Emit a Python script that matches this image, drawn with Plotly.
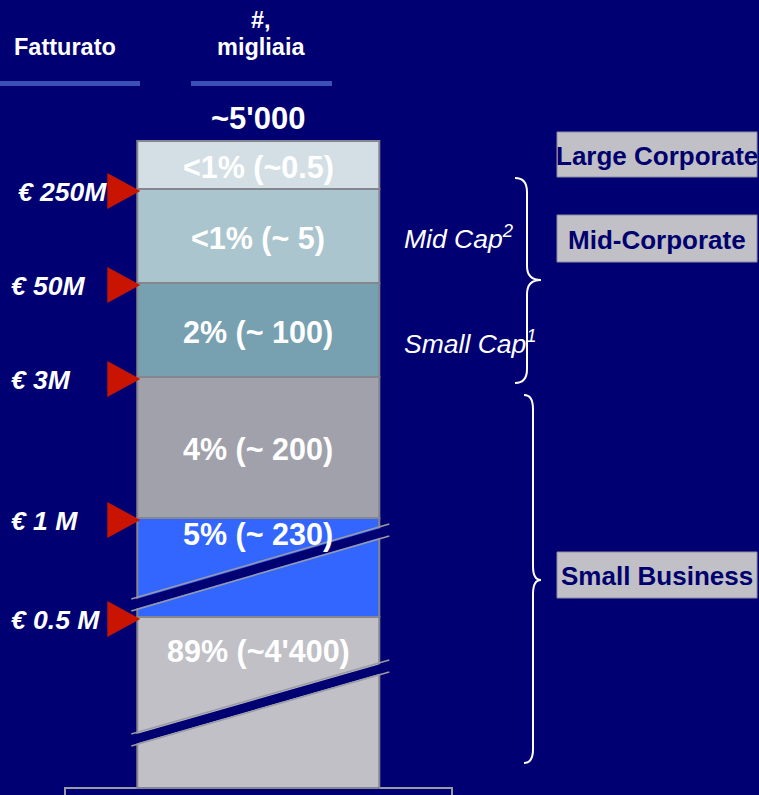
import plotly.graph_objects as go

# ---- data -------------------------------------------------------------
bands = ["Large Corporate", "Mid Cap", "Small Cap", "€1-3M", "€0.5-1M", "< €0.5M"]
share_labels = ["<1%", "<1%", "2%", "4%", "5%", "89%"]
count_labels = ["~0.5", "~ 5", "~ 100", "~ 200", "~ 230", "~4'400"]
# drawn height of each band on the (broken) column scale
band_heights = [48, 94, 94, 141, 99, 171]
band_colors = ["#D3DFE4", "#ABC5CE", "#77A0B0", "#A1A1AB", "#3366FF", "#C0C0C6"]
thresholds = ["€ 250M", "€ 50M", "€ 3M", "€ 1 M", "€ 0.5 M"]
total_label = "~5'000"
segments = ["Large Corporate", "Mid-Corporate", "Small Business"]

# ---- styling ------------------------------------------------------------
W, H = 759, 795
NAVY = "#000072"
FONT = "Arial, Liberation Sans, sans-serif"
COL_TOP = 141
COL_X = 258.3
COL_W = 242
BORDER = "#86868E"
RED = "#C81400"

bases = []
acc = COL_TOP
for h in band_heights:
    bases.append(acc)
    acc += h
col_bottom = acc
col_left = COL_X - COL_W / 2
col_right = COL_X + COL_W / 2

fig = go.Figure()

# stacked column
fig.add_trace(go.Bar(
    x=[COL_X] * len(band_heights), y=band_heights, base=bases, width=COL_W,
    marker=dict(color=band_colors, line=dict(color=BORDER, width=2)),
    hoverinfo="skip", showlegend=False,
))

shapes = []
annotations = []

# axis-break slashes on the two truncated bands
breaks = [  # (band index, y at left edge, y at right edge)
    (4, 599, 524),
    (5, 734, 660),
]
gap = 12
for _, yl, yr in breaks:
    xl, xr = col_left - 6, col_right + 10
    shapes.append(dict(
        type="path", xref="x", yref="y", layer="above",
        path=f"M {xl},{yl+1.5} L {xr},{yr+1.5} L {xr},{yr+gap-1} L {xl},{yl+gap-1} Z",
        fillcolor=NAVY, line=dict(width=0)))
    for dy in (0, gap):
        shapes.append(dict(
            type="line", xref="x", yref="y", layer="above",
            x0=xl, y0=yl + dy, x1=xr, y1=yr + dy,
            line=dict(color="#9A9AA4", width=1.5)))

# band labels
for i, (s, c) in enumerate(zip(share_labels, count_labels)):
    top, h = bases[i], band_heights[i]
    if i == 4:
        y = top + 16
    elif i == 5:
        y = top + 34
    else:
        y = top + h / 2 + 2
    annotations.append(dict(
        x=COL_X, y=y, xref="x", yref="y", showarrow=False,
        text=f"<b>{s} ({c})</b>", font=dict(family=FONT, size=30.5, color="#FFFFFF"),
        xanchor="center", yanchor="middle"))

# revenue threshold markers at band boundaries
for j, lab in enumerate(thresholds):
    yb = bases[j + 1] + 2
    fig.add_trace(go.Scatter(
        x=[col_left + 3, col_left - 30, col_left - 30, col_left + 3],
        y=[yb, yb - 18, yb + 18, yb],
        fill="toself", fillcolor=RED, mode="lines", line=dict(width=0, color=RED),
        hoverinfo="skip", showlegend=False))
    annotations.append(dict(
        x=16 if j == 0 else 9, y=yb + 1, xref="x", yref="y", showarrow=False,
        text=f"<b><i>{lab}</i></b>", font=dict(family=FONT, size=26.5, color="#FFFFFF"),
        xanchor="left", yanchor="middle"))

# column headers
header_font = dict(family=FONT, size=23.5, color="#FFFFFF")
for x, y, t in [(65, 47, "Fatturato"), (261, 20, "#,"), (261, 47, "migliaia")]:
    annotations.append(dict(x=x, y=y, xref="x", yref="y", showarrow=False,
                            xanchor="center", yanchor="middle",
                            text=f"<b>{t}</b>", font=header_font))
for x0, x1 in [(0, 140), (191, 332)]:
    shapes.append(dict(type="line", xref="x", yref="y", x0=x0, x1=x1, y0=83.5, y1=83.5,
                       line=dict(color="#3B4FB8", width=5)))

annotations.append(dict(
    x=COL_X, y=118, xref="x", yref="y", showarrow=False,
    text=f"<b>{total_label}</b>", font=dict(family=FONT, size=31, color="#FFFFFF"),
    xanchor="center", yanchor="middle"))

# base box under the column
shapes.append(dict(type="rect", xref="x", yref="y", layer="below",
                   x0=65, x1=452, y0=col_bottom, y1=H + 10,
                   line=dict(color="#9A9AA6", width=2), fillcolor="rgba(0,0,0,0)"))

# cap classes
cap_font = dict(family=FONT, size=26.5, color="#FFFFFF")
for y, t in [(237, "<i>Mid Cap<sup>2</sup></i>"), (342, "<i>Small Cap<sup>1</sup></i>")]:
    annotations.append(dict(x=402, y=y, xref="x", yref="y", showarrow=False,
                            xanchor="left", yanchor="middle", text=t, font=cap_font))


def brace(x0, y0, y1, xv, xt, ym, r=14):
    return (f"M {x0},{y0} Q {xv},{y0} {xv},{y0 + r} L {xv},{ym - r} "
            f"Q {xv},{ym} {xt},{ym} Q {xv},{ym} {xv},{ym + r} "
            f"L {xv},{y1 - r} Q {xv},{y1} {x0},{y1}")


for args in [(515, 178, 383, 527, 541, 280), (524, 395, 763, 533, 541, 580)]:
    shapes.append(dict(type="path", xref="x", yref="y", path=brace(*args),
                       line=dict(color="#FFFFFF", width=2)))

# customer segment boxes
seg_boxes = [(132, 177), (215, 262), (552, 598)]
for name, (y0, y1) in zip(segments, seg_boxes):
    shapes.append(dict(type="rect", xref="x", yref="y", x0=557, x1=757, y0=y0, y1=y1,
                       fillcolor="#C0C0C6", line=dict(color="#8C8CA0", width=1)))
    annotations.append(dict(
        x=657, y=(y0 + y1) / 2 + 1, xref="x", yref="y", showarrow=False,
        text=f"<b>{name}</b>", font=dict(family=FONT, size=26, color="#00006E"),
        xanchor="center", yanchor="middle"))

fig.update_layout(
    width=W, height=H, margin=dict(l=0, r=0, t=0, b=0),
    paper_bgcolor=NAVY, plot_bgcolor=NAVY,
    barmode="overlay", showlegend=False, hovermode=False,
    xaxis=dict(range=[0, W], visible=False, fixedrange=True),
    yaxis=dict(range=[H, 0], visible=False, fixedrange=True),
    shapes=shapes, annotations=annotations,
)

fig.write_html("out.html", config={"displayModeBar": False})
